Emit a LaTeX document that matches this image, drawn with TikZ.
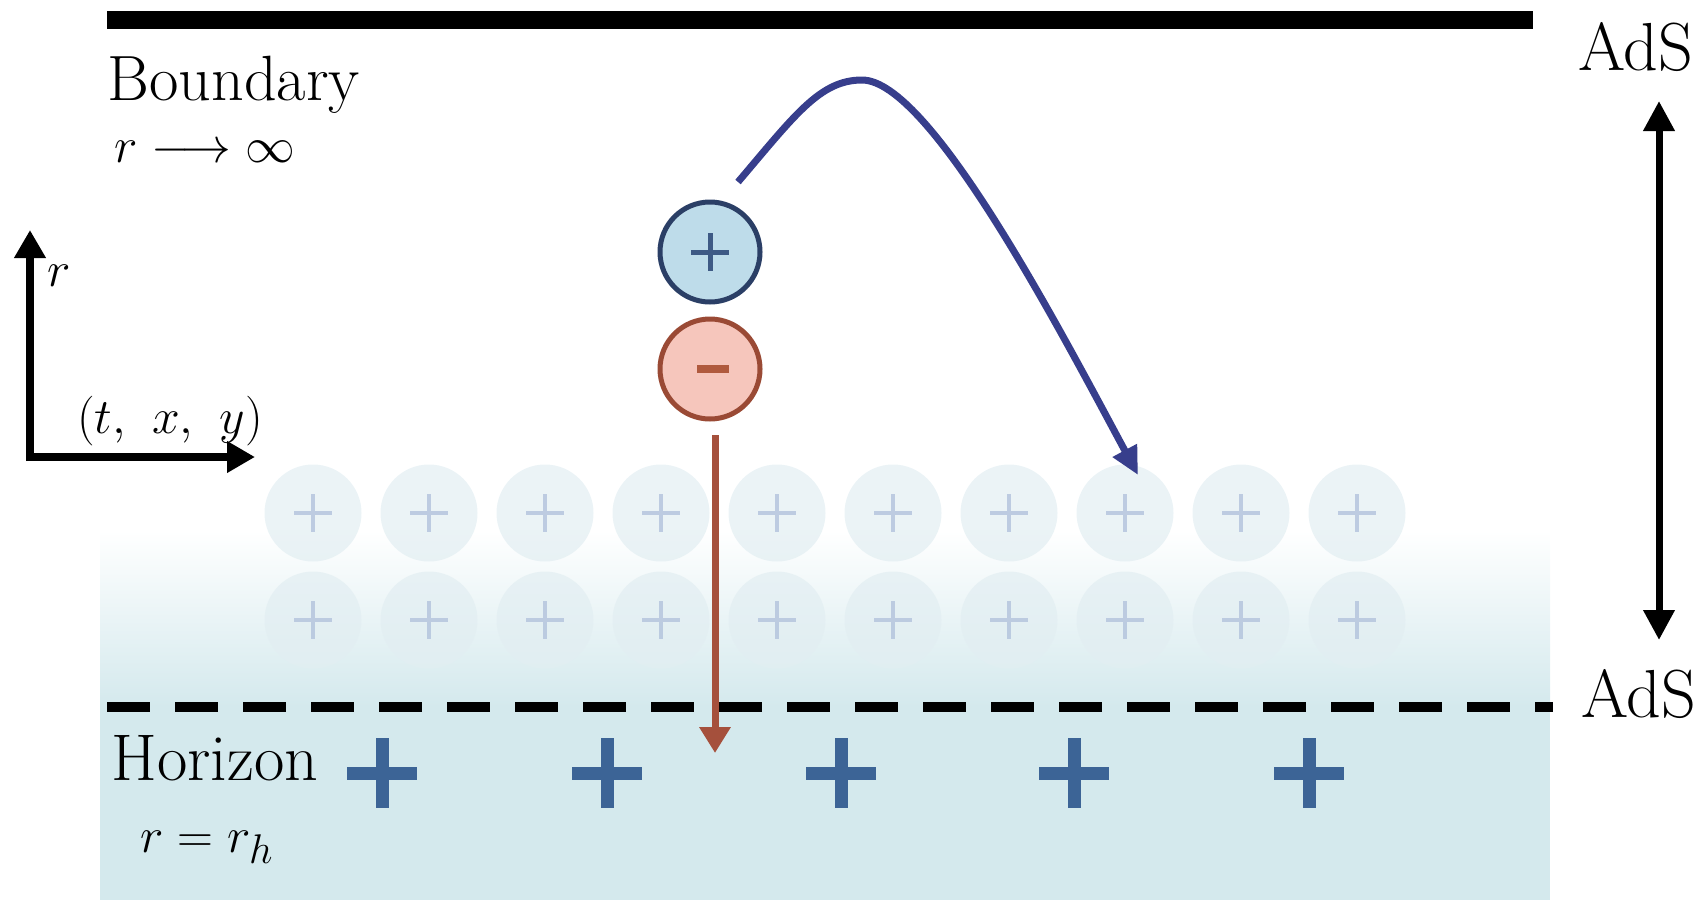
\documentclass[tikz,border=0pt]{standalone}
\usetikzlibrary{arrows.meta}
\definecolor{hteal}{RGB}{212,233,237}
\definecolor{faintfill}{RGB}{226,238,242}
\definecolor{faintplus}{RGB}{178,194,220}
\definecolor{bigplus}{RGB}{60,100,150}
\definecolor{pfill}{RGB}{190,220,234}
\definecolor{pdraw}{RGB}{43,63,102}
\definecolor{pplus}{RGB}{62,90,133}
\definecolor{mfill}{RGB}{246,198,188}
\definecolor{mdraw}{RGB}{154,74,53}
\definecolor{mbar}{RGB}{176,90,62}
\definecolor{bluearr}{RGB}{55,62,140}
\definecolor{redarr}{RGB}{165,80,60}
\tikzset{
  lbl/.style={inner sep=0pt, font=\fontsize{30}{36}\selectfont},
  adslbl/.style={inner sep=0pt, font=\fontsize{34}{40}\selectfont},
  faintc/.style={circle, minimum size=48.5pt, inner sep=0pt, fill=faintfill, fill opacity=0.7},
  faintp/.style={draw=faintplus, line width=2pt, draw opacity=0.8},
  bigp/.style={draw=bigplus, line width=6.5pt},
  chargec/.style={circle, minimum size=50pt, inner sep=0pt, line width=2.5pt},
  axisarr/.style={line width=4pt, -{Triangle[width=15pt,length=14pt]}},
  dblarr/.style={line width=3.5pt, {Triangle[width=15pt,length=15pt]}-{Triangle[width=15pt,length=15pt]}},
}
\begin{document}
\begin{tikzpicture}[x=0.5pt,y=-0.5pt]
\useasboundingbox (0,0) rectangle (1701,900);
% shaded bulk near horizon
\shade[top color=white, bottom color=hteal] (100,530) rectangle (1550,707);
\fill[hteal] (100,707) rectangle (1550,900);
% faint charges
\foreach \i/\x in {1/313,2/429,3/545,4/661,5/777,6/893,7/1009,8/1125,9/1241,10/1357}{
  \foreach \j/\y in {a/513,b/620}{
    \node[faintc] (f\i\j) at (\x,\y) {};
    \draw[faintp] (\x-19,\y) -- (\x+19,\y) (\x,\y-19) -- (\x,\y+19);
  }
}
% boundary
\draw[line width=9pt] (107,20) -- (1533,20);
\node[lbl, anchor=base west, font=\fontsize{32}{38}\selectfont] (bnd) at (107,100) {Boundary};
\node[lbl, anchor=base west] (rinf) at (114,162) {$r\longrightarrow\infty$};
% horizon
\draw[line width=5pt, dash pattern=on 21.5pt off 12.5pt] (107,707) -- (1553,707);
\node[lbl, anchor=base west, font=\fontsize{33}{39}\selectfont] (hor) at (111,780) {Horizon};
\node[lbl, anchor=base west, font=\fontsize{31}{37}\selectfont] (rrh) at (140,852) {$r=r_h$};
% big pluses on horizon
\foreach \x in {382,607,841,1074,1309}{
  \draw[bigp] (\x-35,773) -- (\x+35,773) (\x,773-35) -- (\x,773+35);
}
% AdS labels and arrow
\node[adslbl, anchor=base west] (adstop) at (1578,70) {AdS};
\node[adslbl, anchor=base west] (adsbot) at (1581,717) {AdS};
\coordinate (atop) at (1659,101);
\coordinate (abot) at (1659,640);
\draw[dblarr] (atop) -- (abot);
% axes
\coordinate (o) at (30,457);
\coordinate (ry) at (30,230);
\coordinate (rx) at (255,457);
\draw[axisarr] ([yshift=-2pt]o) -- (ry);
\draw[axisarr] ([xshift=-2pt]o) -- (rx);
\node[lbl, anchor=base west, font=\fontsize{34}{40}\selectfont] (rlab) at (47,286) {$r$};
\node[lbl, anchor=base] (txy) at (170,433) {$(t,\ x,\ y)$};
% charges
\node[chargec, fill=pfill, draw=pdraw] (pc) at (710,252) {};
\draw[draw=pplus, line width=2.5pt] (691,252) -- (729,252) (710,233) -- (710,271);
\node[chargec, fill=mfill, draw=mdraw] (mc) at (710,369) {};
\draw[draw=mbar, line width=4pt] (697,369) -- (729,369);
% arrows
\coordinate (bs) at (738,182);
\coordinate (bpk) at (862,80);
\coordinate (be) at (1138,475);
\draw[bluearr, line width=3.5pt, -{Triangle[width=13pt,length=14pt]}]
  (bs) .. controls (795,115) and (820,80) .. (bpk) .. controls (930,80) and (1060,330) .. (be);
\coordinate (rs) at (715,435);
\coordinate (re) at (715,753);
\draw[redarr, line width=3.5pt, -{Triangle[width=15pt,length=13pt]}] (rs) -- (re);
\end{tikzpicture}
\end{document}
